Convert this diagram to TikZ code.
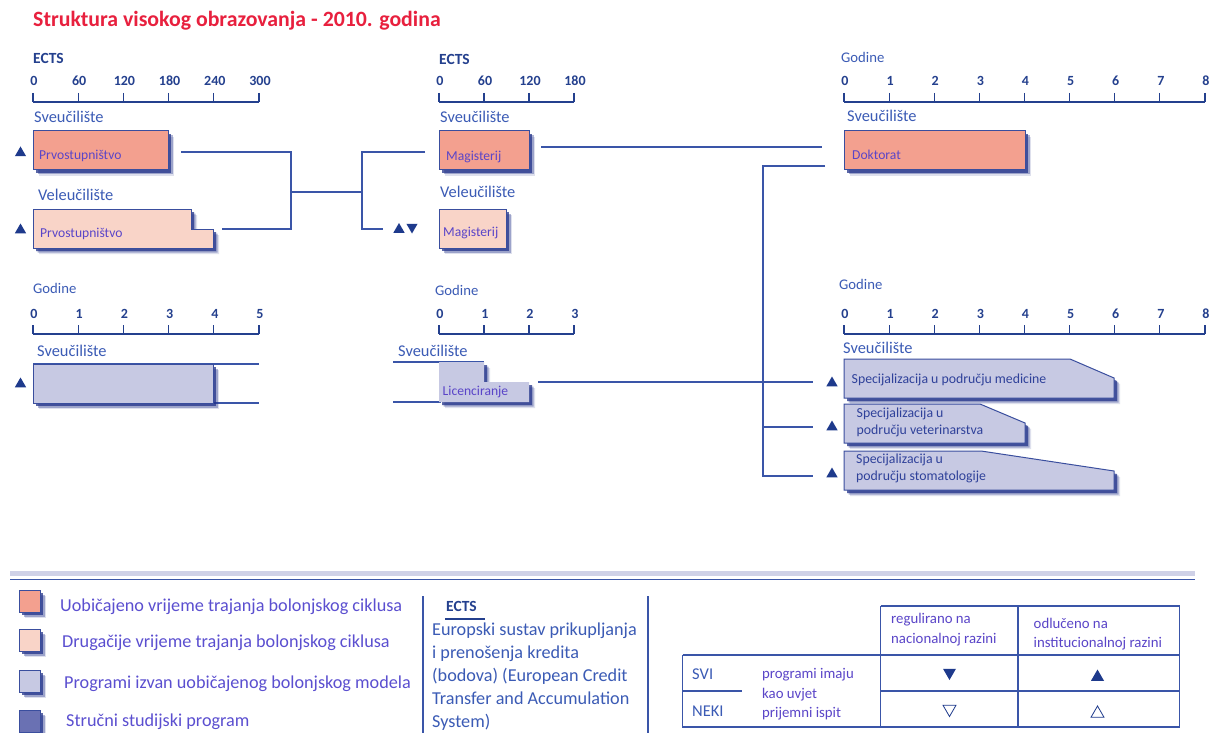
\documentclass[tikz,border=0pt]{standalone}
\usepackage{fontspec}
\setmainfont{Carlito}
\usetikzlibrary{shapes.geometric}
\definecolor{salmon}{HTML}{F3A08F}
\definecolor{pinkc}{HTML}{F9D4C8}
\definecolor{lav}{HTML}{C7C9E3}
\definecolor{dkbox}{HTML}{6A71B3}
\definecolor{edge}{HTML}{3A4E9E}
\definecolor{shd}{HTML}{23338A}
\definecolor{linec}{HTML}{3A55A8}
\definecolor{navy}{HTML}{24408E}
\definecolor{headc}{HTML}{3B5BB5}
\definecolor{violet}{HTML}{5A45C8}
\definecolor{legc}{HTML}{5B4FD0}
\definecolor{titlec}{HTML}{E8203E}
\definecolor{trc}{HTML}{1E3A8C}
\newcommand\fs[1]{\fontsize{#1}{#1}\selectfont}
\newcommand\fsb[2]{\fontsize{#1}{#2}\selectfont}
\newcommand\dropbox[3]{%
  \fill[shd,opacity=.15,shift={(6,6)}] #3;
  \fill[shd,opacity=.35,shift={(4.5,4.5)}] #3;
  \fill[shd,opacity=.75,shift={(3,3)}] #3;
  \path[fill=#1,#2] #3;}
\newcommand\scl[5]{%
  \foreach \lab [count=\i from 0] in {#5} {
    \draw[ax] (#2+\i*#4,#3-9) -- (#2+\i*#4,#3);
    \node[tlab] (#1\i) at (#2+\i*#4+1,#3-16) {\lab};
    \xdef\lastx{\i}
  }
  \draw[ax] (#2,#3) -- (#2+\lastx*#4,#3);}
\tikzset{
  ax/.style={draw=navy,line width=1.2},
  tlab/.style={anchor=base,inner sep=0,text=navy,font=\bfseries\fs{14}},
  conn/.style={draw=linec,line width=1.1},
  hdr/.style={anchor=base west,inner sep=0,text=headc,font=\fs{16.4}},
  godine/.style={anchor=base west,inner sep=0,text=headc,font=\fs{14.7}},
  ects/.style={anchor=base west,inner sep=0,text=navy,font=\bfseries\fs{15.5}},
  blab/.style={anchor=base west,inner sep=0,text=violet,font=\fs{13.6}},
  slab/.style={anchor=base west,inner sep=0,text=navy!80!violet,font=\fs{13.8}},
  slab2/.style={anchor=north west,inner sep=0,align=left,text=navy!80!violet,font=\fsb{13.8}{17}},
  tri/.style={regular polygon,regular polygon sides=3,fill=trc,inner sep=0,minimum size=13},
  tridown/.style={tri,shape border rotate=180},
  leg/.style={anchor=base west,inner sep=0,text=legc,font=\fs{18.2}},
  tab/.style={anchor=base west,inner sep=0,text=violet,font=\fs{14.8}},
  tline/.style={draw=linec,line width=1.1},
  bdr/.style={draw=edge,line width=1}
}
\begin{document}
\begin{tikzpicture}[x=1pt,y=-1pt]
\useasboundingbox (0,0) rectangle (1216,733);
\fill[white] (0,0) rectangle (1216,733);

% title
\node[anchor=base west,inner sep=0,text=titlec,font=\bfseries\fs{21.8}] (title) at (33,26.5) {Struktura visokog obrazovanja - 2010. godina};

% ---- scales
\node[ects] (e1) at (33,64) {ECTS};
\scl{a}{33}{102}{45.2}{0,60,120,180,240,300}
\node[ects] (e2) at (439,65) {ECTS};
\scl{b}{439}{102}{45}{0,60,120,180}
\node[godine] (g1) at (841,62.5) {Godine};
\scl{c}{844}{102}{45.12}{0,1,2,3,4,5,6,7,8}
\node[godine] (g2) at (33,293) {Godine};
\scl{d}{33}{334}{45.2}{0,1,2,3,4,5}
\node[godine] (g3) at (435,295.5) {Godine};
\scl{f}{439}{334}{45}{0,1,2,3}
\node[godine] (g4) at (839,289) {Godine};
\scl{h}{844}{334}{45.12}{0,1,2,3,4,5,6,7,8}

% ---- institution headers
\node[hdr] (s1) at (34,123) {Sveučilište};
\node[hdr] (v1) at (38,200.5) {Veleučilište};
\node[hdr] (s2) at (440,122.5) {Sveučilište};
\node[hdr] (v2) at (440,197.5) {Veleučilište};
\node[hdr] (s3) at (847,121.5) {Sveučilište};
\node[hdr] (s4) at (37,356) {Sveučilište};
\node[hdr] (s5) at (398,356) {Sveučilište};
\node[hdr] (s6) at (843,353.5) {Sveučilište};

% ---- lines behind boxes
\draw[conn] (33,364) -- (259,364);
\draw[conn] (33,403) -- (259,403);
\draw[conn] (393,362) -- (484,362);
\draw[conn] (393,402) -- (441,402);

% ---- boxes
\dropbox{salmon}{bdr}{(33,131) rectangle (168,170)}
\dropbox{pinkc}{bdr}{(33,209) -- (191,209) -- (191,229) -- (213,229) -- (213,248) -- (33,248) -- cycle}
\dropbox{salmon}{bdr}{(439,131) rectangle (529,170)}
\dropbox{pinkc}{bdr}{(439,209) rectangle (506,248)}
\dropbox{salmon}{bdr}{(844,131) rectangle (1025,170)}
\dropbox{lav}{bdr}{(33,364) rectangle (213,403)}
\dropbox{lav}{draw=none}{(439,362) -- (484,362) -- (484,382) -- (529,382) -- (529,402) -- (439,402) -- cycle}
\dropbox{lav}{bdr}{(844,359) -- (1070,359) -- (1114,378) -- (1114,398) -- (844,398) -- cycle}
\dropbox{lav}{bdr}{(844,404) -- (980,404) -- (1025,423) -- (1025,443) -- (844,443) -- cycle}
\dropbox{lav}{bdr}{(844,451) -- (981,451) -- (1114,471) -- (1114,490) -- (844,490) -- cycle}

% ---- box labels
\node[blab] (prv1) at (39,160) {Prvostupništvo};
\node[blab] (prv2) at (40,237) {Prvostupništvo};
\node[blab] (mag1) at (446,160.5) {Magisterij};
\node[blab] (mag2) at (443,236.5) {Magisterij};
\node[blab] (dok) at (852,159.5) {Doktorat};
\node[blab] (lic) at (442.5,395) {Licenciranje};
\node[slab] (sp1) at (851.5,383.5) {Specijalizacija u području medicine};
\node[slab2] (sp2) at (856.5,407.5) {Specijalizacija u\\području veterinarstva};
\node[slab2] (sp3) at (856,454) {Specijalizacija u\\području stomatologije};

% ---- connector coordinates
\coordinate (prv1o) at (181,152);
\coordinate (prv2o) at (222,229);
\coordinate (j1) at (291,192);
\coordinate (mag1i) at (425,152);
\coordinate (mag2i) at (383,229);
\coordinate (mag1o) at (541,147);
\coordinate (doki) at (822,147);
\coordinate (doko) at (825,166);
\coordinate (lico) at (538,382);
\coordinate (sp1i) at (813,382);
\coordinate (sp2i) at (813,427);
\coordinate (sp3i) at (813,476);

\draw[conn] (prv1o) -- (prv1o -| j1) -- (prv2o -| j1) -- (prv2o);
\draw[conn] (j1) -- (362,192);
\draw[conn] (mag1i) -- (362,152) -- (362,229) -- (mag2i);
\draw[conn] (mag1o) -- (doki);
\draw[conn] (doko) -- (763,166) -- (763,476) -- (sp3i);
\draw[conn] (763,427) -- (sp2i);
\draw[conn] (lico) -- (sp1i);

% ---- triangles
\node[tri] (t1) at (20.5,153) {};
\node[tri] (t2) at (20.5,230) {};
\node[tri] (t3) at (20.5,384) {};
\node[tri] (t4) at (399,229.5) {};
\node[tridown] (t5) at (412,227) {};
\node[tri] (t6) at (832,383) {};
\node[tri] (t7) at (832,427) {};
\node[tri] (t8) at (832,474) {};

% ---- separator
\draw[line width=5,draw=lav!85] (10,573) -- (1195,573);
\draw[draw=linec,line width=1.3] (10,579.5) -- (1195,579.5);
\draw[draw=linec,line width=1.1] (423,596) -- (423,733);
\draw[draw=linec,line width=1.1] (648,596) -- (648,733);

% ---- legend
\dropbox{salmon}{bdr}{(19,590) rectangle (40,612)}
\dropbox{pinkc}{bdr}{(19,629) rectangle (40,651)}
\dropbox{lav}{bdr}{(19,670) rectangle (40,692)}
\dropbox{dkbox}{bdr}{(19,710) rectangle (40,732)}
\node[leg] (l1) at (60,611.5) {Uobičajeno vrijeme trajanja bolonjskog ciklusa};
\node[leg] (l2) at (62,647.5) {Drugačije vrijeme trajanja bolonjskog ciklusa};
\node[leg] (l3) at (64,688.5) {Programi izvan uobičajenog bolonjskog modela};
\node[leg] (l4) at (66,726.5) {Stručni studijski program};

\node[ects] (e3) at (446,611.5) {ECTS};
\draw[draw=navy,line width=1.3] (445,619) -- (485,619);
\node[leg,text=headc] (el1) at (432,635) {Europski sustav prikupljanja};
\node[leg,text=headc] (el2) at (432,658.3) {i prenošenja kredita};
\node[leg,text=headc] (el3) at (432,681.6) {(bodova) (European Credit};
\node[leg,text=headc] (el4) at (432,704.5) {Transfer and Accumulation};
\node[leg,text=headc] (el5) at (432,727) {System)};

% ---- table
\draw[tline] (880.7,606) -- (1179.5,606);
\draw[tline] (880.7,606) -- (880.7,727);
\draw[tline] (1018,606) -- (1018,727);
\draw[tline] (1179.5,606) -- (1179.5,727);
\draw[tline] (682.5,655) -- (1179.5,655);
\draw[tline] (682.5,655) -- (682.5,727) -- (1179.5,727);
\draw[tline] (682.5,691) -- (742,691);
\draw[tline] (880.7,691) -- (1179.5,691);
\node[tab] (h1a) at (891,623) {regulirano na};
\node[tab] (h1b) at (891,643) {nacionalnoj razini};
\node[tab] (h2a) at (1033.5,628) {odlučeno na};
\node[tab] (h2b) at (1033.5,647.5) {institucionalnoj razini};
\node[tab,font=\fs{16.5},text=headc] (svi) at (692,679) {SVI};
\node[tab,font=\fs{16.5},text=headc] (neki) at (692,716.5) {NEKI};
\node[tab] (p1) at (762,678.5) {programi imaju};
\node[tab] (p2) at (762,698) {kao uvjet};
\node[tab] (p3) at (762,717) {prijemni ispit};
\node[tridown,minimum size=15] (tt1) at (949.5,672.5) {};
\node[tri,minimum size=15] (tt2) at (1097.5,677) {};
\node[tridown,minimum size=15,fill=none,draw=trc,line width=0.8] (tt3) at (949.5,709) {};
\node[tri,minimum size=15,fill=none,draw=trc,line width=0.8] (tt4) at (1097.5,713.5) {};
\end{tikzpicture}
\end{document}
